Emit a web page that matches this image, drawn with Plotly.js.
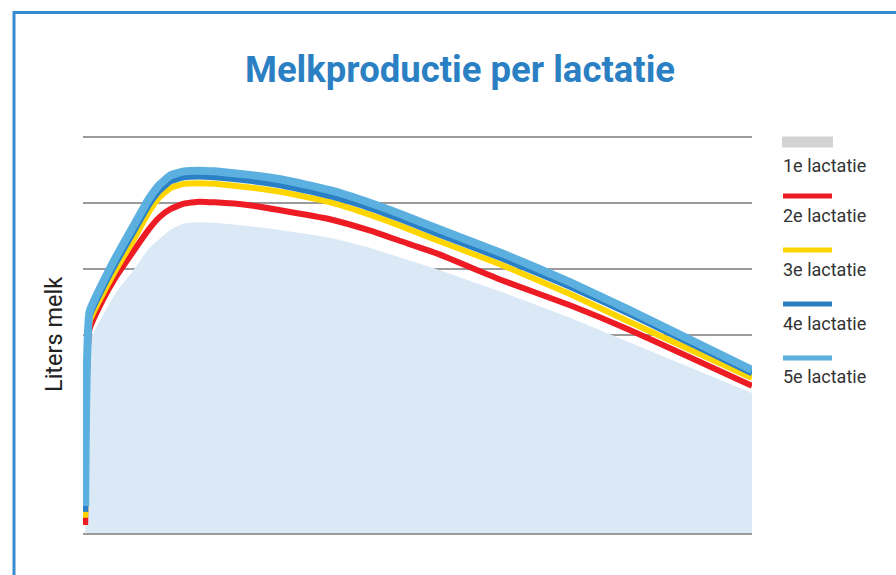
<!DOCTYPE html>
<html>
<head>
<meta charset="utf-8">
<script src="https://cdn.plot.ly/plotly-3.0.1.min.js"></script>
<style>
  html, body { margin: 0; padding: 0; background: #ffffff; }
  #chart { width: 896px; height: 575px; }
</style>
</head>
<body>
<div id="chart"></div>
<script>
// ---- Data ----
const days = [1, 3, 9, 15, 23, 30, 35, 40, 46, 53, 60, 75, 90, 113, 131, 145, 161, 191, 222, 249, 305];

const lact1 = [2.0, 29.0, 32.9, 36.4, 39.8, 43.1, 44.6, 46.0, 46.9, 47.1, 47.0, 46.5, 45.9, 44.7, 43.2, 41.7, 40.0, 36.5, 32.6, 28.9, 21.2];
const lact2 = [1.2, 30.9, 35.3, 38.8, 42.7, 46.0, 47.9, 49.1, 49.9, 50.2, 50.1, 49.7, 48.9, 47.5, 45.8, 44.2, 42.4, 38.3, 34.5, 30.8, 22.3];
const lact3 = [2.3, 32.0, 36.2, 39.9, 44.4, 48.6, 50.9, 52.3, 52.9, 53.0, 52.9, 52.4, 51.7, 50.1, 48.2, 46.5, 44.4, 40.6, 36.2, 32.0, 23.5];
const lact4 = [3.2, 32.8, 37.1, 40.9, 45.6, 49.7, 51.9, 53.3, 53.9, 54.0, 53.9, 53.4, 52.7, 51.0, 49.2, 47.5, 45.4, 41.6, 37.3, 33.2, 24.2];
const lact5 = [4.1, 33.5, 37.9, 41.8, 46.5, 50.6, 52.8, 54.2, 54.8, 54.9, 54.8, 54.3, 53.6, 51.9, 50.0, 48.3, 46.2, 42.4, 38.0, 33.8, 24.7];

const seriesNames = ["1e lactatie", "2e lactatie", "3e lactatie", "4e lactatie", "5e lactatie"];
const yTickVals = [0, 10, 20, 30, 40, 50, 60];

const chartTitle = "Melkproductie per lactatie";
const yTitle = "Liters melk";

// ---- Styling ----
const fillColor = "#dbe9f6";
const legendSwatch = ["#d3d3d3", "#ed1c24", "#ffd500", "#2b80c5", "#5bb0e0"];
const lineColors = [null, "#ed1c24", "#ffd500", "#2b80c5", "#5bb0e0"];
const lineWidths = [0, 6, 6, 6, 8];
const smooth = 0.4;

const W = 896, H = 575;
const M = { l: 83, r: 144, t: 97, b: 42 };
const plotW = W - M.l - M.r, plotH = H - M.t - M.b;
const px2paperX = px => (px - M.l) / plotW;
const px2paperY = py => (H - M.b - py) / plotH;

const data = [
  {
    type: "scatter", mode: "lines", name: seriesNames[0],
    x: days, y: lact1, fill: "tozeroy", fillcolor: fillColor,
    line: { width: 0, color: fillColor, shape: "spline", smoothing: smooth }, hoverinfo: "skip"
  }
];
const others = [lact2, lact3, lact4, lact5];
others.forEach((vals, k) => {
  const i = k + 1;
  data.push({
    type: "scatter", mode: "lines", name: seriesNames[i],
    x: days, y: vals,
    line: { width: lineWidths[i], color: lineColors[i], shape: "spline", smoothing: smooth }
  });
});

// custom legend: swatch above label
const shapes = [];
const annotations = [];
const legendFont = { family: "Roboto, Noto Sans, sans-serif", size: 18, color: "#333333" };
seriesNames.forEach((name, i) => {
  const sy = 142 + i * 54;
  if (i === 0) {
    shapes.push({ type: "rect", xref: "paper", yref: "paper",
      x0: px2paperX(782), x1: px2paperX(833), y0: px2paperY(sy - 5.5), y1: px2paperY(sy + 5.5),
      fillcolor: legendSwatch[i], line: { width: 0 } });
  } else {
    shapes.push({ type: "line", xref: "paper", yref: "paper",
      x0: px2paperX(783), x1: px2paperX(832), y0: px2paperY(sy), y1: px2paperY(sy),
      line: { color: legendSwatch[i], width: 5 } });
  }
  annotations.push({ xref: "paper", yref: "paper", x: px2paperX(781), y: px2paperY(sy + (i === 0 ? 23 : 19)),
    xanchor: "left", yanchor: "middle", showarrow: false, text: name, font: legendFont });
});
// y-axis title
annotations.push({ xref: "paper", yref: "paper", x: px2paperX(54), y: px2paperY(335),
  xanchor: "center", yanchor: "middle", showarrow: false, text: yTitle, textangle: -90,
  font: { family: "Roboto, Noto Sans, sans-serif", size: 23.5, color: "#222222" } });

// outer blue frame
shapes.push({ type: "rect", xref: "paper", yref: "paper",
  x0: px2paperX(14), x1: px2paperX(1000), y0: px2paperY(700), y1: px2paperY(12.5),
  line: { color: "#3a8ad0", width: 3 }, fillcolor: "rgba(0,0,0,0)", layer: "below" });

const layout = {
  width: W, height: H, autosize: false,
  margin: { l: M.l, r: M.r, t: M.t, b: M.b, pad: 0 },
  paper_bgcolor: "#ffffff", plot_bgcolor: "#ffffff",
  showlegend: false,
  title: {
    text: chartTitle, xref: "container", yref: "container",
    x: 460 / W, y: 1 - 69 / H, xanchor: "center", yanchor: "middle",
    font: { family: "Roboto, Noto Sans, sans-serif", size: 36.5, color: "#2b7fc3", weight: "bold" }
  },
  xaxis: {
    range: [0, 305], showgrid: false, zeroline: false,
    showline: true, linecolor: "#9b9b9b", linewidth: 2,
    showticklabels: false, ticks: "", fixedrange: true
  },
  yaxis: {
    range: [0, plotH / 6.6], tickmode: "array", tickvals: yTickVals,
    showgrid: true, gridcolor: "#9b9b9b", gridwidth: 2,
    zeroline: false, showline: false, showticklabels: false, ticks: "", fixedrange: true
  },
  shapes: shapes,
  annotations: annotations
};

Plotly.newPlot("chart", data, layout, { displayModeBar: false, staticPlot: true });
</script>
</body>
</html>
